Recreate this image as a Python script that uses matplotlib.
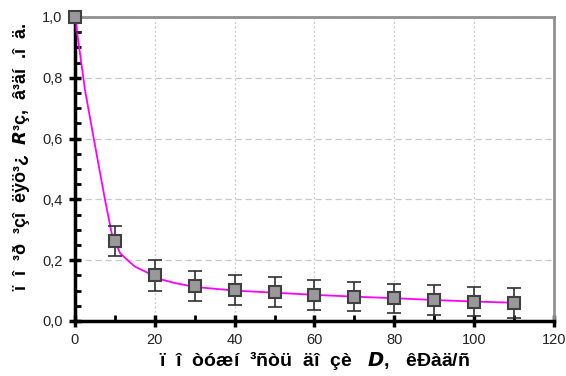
import matplotlib
matplotlib.use("Agg")
import matplotlib.pyplot as plt
from matplotlib.ticker import MultipleLocator, FuncFormatter

# measured points
dose = [0, 10, 20, 30, 40, 50, 60, 70, 80, 90, 100, 110]
pol = [1.0, 0.264, 0.150, 0.116, 0.101, 0.095, 0.086, 0.080, 0.075, 0.069, 0.063, 0.059]
err = [0.05, 0.05, 0.052, 0.05, 0.05, 0.049, 0.049, 0.048, 0.048, 0.048, 0.048, 0.048]

# fitted curve
fit_x = [0, 2.5, 4.6, 7.5, 9.2, 11.3, 13.6, 15, 18, 21.5, 25, 30, 40, 50, 60, 70, 80, 90, 100, 110]
fit_y = [1.0, 0.76, 0.607, 0.40, 0.288, 0.223, 0.195, 0.179, 0.160, 0.137, 0.125, 0.112, 0.100,
         0.093, 0.086, 0.080, 0.075, 0.069, 0.064, 0.060]

plt.rcParams['font.family'] = ['Liberation Sans', 'DejaVu Sans']

fig = plt.figure(figsize=(5.66, 3.76), dpi=100)
ax = fig.add_axes([0.1325, 0.1463, 0.9788 - 0.1325, 0.9548 - 0.1463])

ax.plot(fit_x, fit_y, color='#ff00ff', lw=1.3, zorder=3)
ax.errorbar(dose, pol, yerr=err, fmt='none', ecolor='#303030', elinewidth=1.2,
            capsize=5, capthick=1.2, zorder=4)
ax.plot(dose, pol, 's', ms=9, mfc='#999999', mec='#404040', mew=1.5, zorder=5,
        clip_on=False)

ax.set_xlim(0, 120)
ax.set_ylim(0, 1.0)
ax.xaxis.set_major_locator(MultipleLocator(20))
ax.xaxis.set_minor_locator(MultipleLocator(10))
ax.yaxis.set_major_locator(MultipleLocator(0.2))
ax.yaxis.set_minor_locator(MultipleLocator(0.05))
ax.yaxis.set_major_formatter(FuncFormatter(lambda v, p: f"{v:.1f}".replace('.', ',')))

ax.grid(True, which='major', axis='y', color='#c8c8c8', ls=(0, (5, 3)), lw=0.9)
ax.grid(True, which='major', axis='x', color='#c8c8c8', ls=(0, (1.5, 2)), lw=0.9)
ax.set_axisbelow(True)

for s in ['left', 'bottom']:
    ax.spines[s].set_linewidth(2.5)
    ax.spines[s].set_color('black')
for s in ['top', 'right']:
    ax.spines[s].set_linewidth(2)
    ax.spines[s].set_color('#909090')

ax.tick_params(which='major', direction='inout', length=8, width=2.5, labelsize=10.5,
               labelcolor='#222222', pad=5)
ax.tick_params(which='minor', direction='in', length=4, width=2)

ax.set_xlabel("ï  î  òóæí  ³ñòü  äî  çè   $\\mathbfit{D}$,   êÐàä/ñ", fontsize=14,
              fontweight='bold', labelpad=1)
ax.set_ylabel("ï  î  ³ð  ³çî  ëÿö³¿  $\\mathbfit{R}$³ç,  â³äí  .î  ä.", fontsize=13,
              fontweight='bold')
ax.yaxis.set_label_coords(-0.09, 0.54)

fig.savefig("out.png", dpi=100)
